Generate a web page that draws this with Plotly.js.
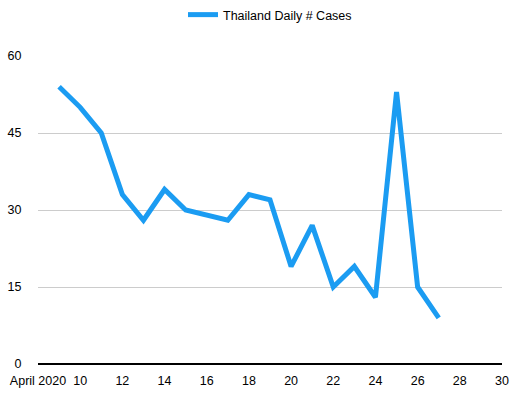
<!DOCTYPE html>
<html>
<head>
<meta charset="utf-8">
<script src="https://cdn.plot.ly/plotly-3.0.1.min.js"></script>
<style>html,body{margin:0;padding:0;background:#fff;}#chart{width:519px;height:394px;}</style>
</head>
<body>
<div id="chart"></div>
<script>
const dates = ["2020-04-09","2020-04-10","2020-04-11","2020-04-12","2020-04-13","2020-04-14","2020-04-15","2020-04-16","2020-04-17","2020-04-18","2020-04-19","2020-04-20","2020-04-21","2020-04-22","2020-04-23","2020-04-24","2020-04-25","2020-04-26","2020-04-27"];
const dailyCases = [54,50,45,33,28,34,30,29,28,33,32,19,27,15,19,13,53,15,9];
const xTickVals = ["2020-04-08","2020-04-10","2020-04-12","2020-04-14","2020-04-16","2020-04-18","2020-04-20","2020-04-22","2020-04-24","2020-04-26","2020-04-28","2020-04-30"];
const xTickText = ["April 2020","10","12","14","16","18","20","22","24","26","28","30"];
const yTickVals = [0,15,30,45,60];

Plotly.newPlot("chart", [{
  x: dates, y: dailyCases, type: "scatter", mode: "lines",
  name: "Thailand Daily # Cases",
  line: {color: "#1b9cf2", width: 5}
}], {
  width: 519, height: 394,
  margin: {l: 38, r: 17, t: 56, b: 30},
  paper_bgcolor: "#fff", plot_bgcolor: "#fff",
  font: {family: "Liberation Sans, Arial, sans-serif", size: 12, color: "#000"},
  showlegend: true,
  legend: {orientation: "h", x: 0.5, xanchor: "center", y: 1, yref: "container", yanchor: "top", font: {size: 12.5}, itemwidth: 30},
  xaxis: {
    type: "date", range: ["2020-04-08","2020-04-30"],
    tickmode: "array", tickvals: xTickVals, ticktext: xTickText,
    showgrid: false, zeroline: false, showline: false,
    ticks: "outside", ticklen: 5, tickcolor: "rgba(0,0,0,0)", tickfont: {size: 12.5}
  },
  yaxis: {
    range: [0, 60], tickmode: "array", tickvals: yTickVals,
    showgrid: true, gridcolor: "#cccccc", gridwidth: 1,
    zeroline: true, zerolinecolor: "#000", zerolinewidth: 2,
    showline: false, ticks: "outside", ticklen: 13, tickcolor: "rgba(0,0,0,0)",
    tickfont: {size: 12.5}
  }
}, {displayModeBar: false, staticPlot: true});
</script>
</body>
</html>
